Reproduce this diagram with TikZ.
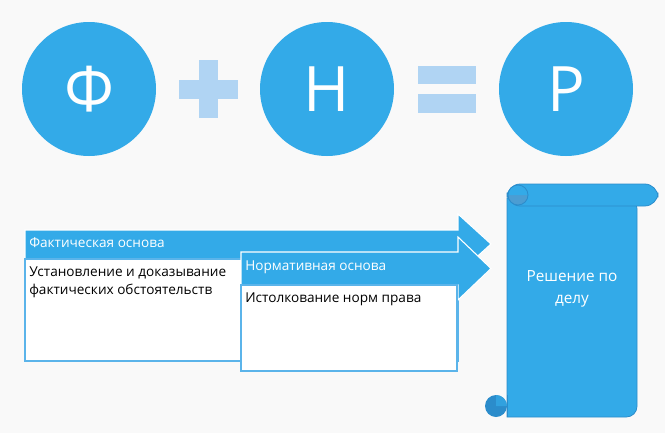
\documentclass[tikz,border=0pt]{standalone}
\usepackage{fontspec}
\setmainfont{Open Sans}
\definecolor{bgcol}{HTML}{F9F9F9}
\definecolor{mainblue}{HTML}{33AAE8}
\definecolor{lightblue}{HTML}{B0D4F3}
\definecolor{edgeblue}{HTML}{5BB4EA}
\definecolor{darkblue}{HTML}{2B8CCB}
\begin{document}
\begin{tikzpicture}[x=0.75pt, y=-0.75pt,
  bigcirc/.style={circle, fill=mainblue, minimum size=100.5pt, inner sep=0pt,
    text=white, font=\fontsize{47}{50}\selectfont},
  banner/.style={fill=mainblue, draw=white, line width=0.8pt, line join=miter},
  textbox/.style={fill=white, draw=edgeblue, line width=0.8pt},
  headtext/.style={anchor=west, text=white, font=\fontsize{10.2}{13}\selectfont, inner sep=0pt},
  bodytext/.style={anchor=north west, text=black, font=\fontsize{10.2}{13.5}\selectfont, inner sep=0pt, align=left}]
\fill[bgcol] (0,0) rectangle (665,433);

% top row
\node[bigcirc] (f) at (89,89) {Ф};
\node[bigcirc] (n) at (327,89) {Н};
\node[bigcirc] (r) at (566,89) {Р};
\fill[lightblue] (179,80) rectangle (238,99);
\fill[lightblue] (199,60) rectangle (218,118);
\fill[lightblue] (418,66) rectangle (476,84);
\fill[lightblue] (418,94) rectangle (476,113);

% arrows and boxes
\draw[banner] (25,230) -- (458,230) -- (458,214) -- (491,244) -- (458,274) -- (458,259) -- (25,259) -- cycle;
\draw[textbox] (25,259) rectangle (458,361);
\draw[banner] (241,252) -- (458,252) -- (458,237) -- (491,268.5) -- (458,300) -- (458,285) -- (241,285) -- cycle;
\draw[textbox] (241,285) rectangle (457,371);

\node[headtext] (fhead) at (29,243) {Фактическая основа};
\node[bodytext] (fbody) at (29,267) {Установление и доказывание\\фактических обстоятельств};
\node[headtext] (nhead) at (245,267) {Нормативная основа};
\node[bodytext] (nbody) at (245,293) {Истолкование норм права};

% scroll
\draw[fill=mainblue, draw=darkblue, line width=0.6pt] (507,198) -- (507,417)
  [rounded corners=8] -- (637,417) -- (637,198) [sharp corners] -- cycle;
\draw[fill=mainblue, draw=darkblue, line width=0.6pt, rounded corners=10] (507,184) rectangle (658,206);
\fill[darkblue!85] (518,195) circle[radius=10];
\fill[mainblue] (508,195) arc[start angle=180, end angle=360, radius=10] -- cycle;
\draw[darkblue, line width=0.6pt] (518,195) circle[radius=10];
\fill[darkblue] (496,406) circle[radius=11];
\fill[mainblue!70!darkblue] (496,406) -- (496,395) arc[start angle=270, end angle=360, radius=11] -- cycle;
\draw[darkblue, line width=0.6pt] (507,395) -- (507,417);
\node[text=white, align=center, font=\fontsize{11.5}{16.5}\selectfont] (res) at (572,289) {Решение по\\делу};
\end{tikzpicture}
\end{document}
